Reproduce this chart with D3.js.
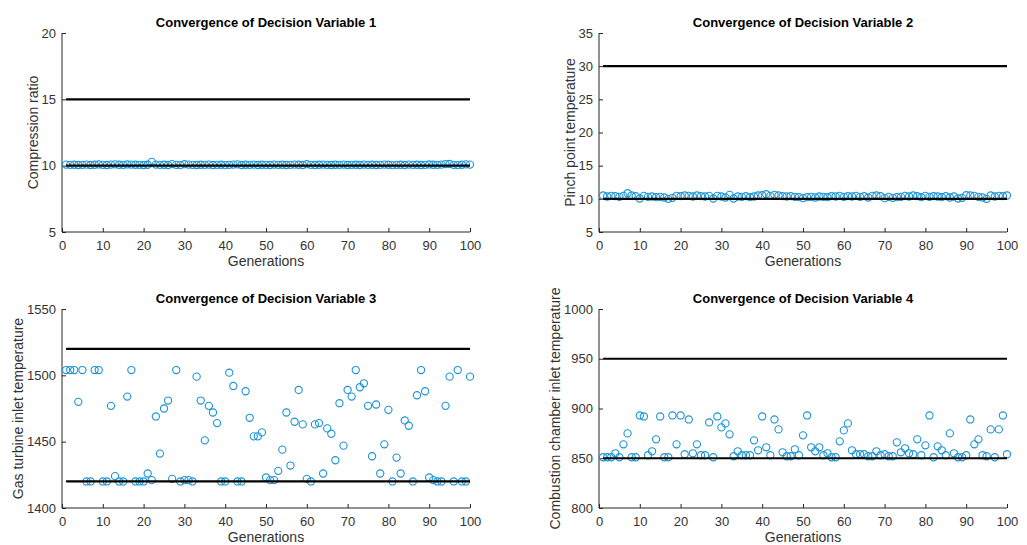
<!DOCTYPE html>
<html lang="en">
<head>
<meta charset="UTF-8">
<title>Convergence of Decision Variables</title>
<script src="https://d3js.org/d3.v7.min.js"></script>
<style>
    body, html {
        margin: 0;
        background: #fff;
    }
    svg {
        display: block;
        font-family: "Liberation Sans", Arial, sans-serif;
    }
    .tick text {
        fill: #333;
        font-size: 13px;
    }
    .domain, .tick line {
        stroke: #262626;
    }
</style>
</head>
<body>
<svg width="1027" height="545"></svg>
<script>
    // generations 1..100
    const generations = d3.range(1, 101);
    const xTicks = [0, 10, 20, 30, 40, 50, 60, 70, 80, 90, 100];

    // variable 1 - compression ratio
    const var1 = [
        10.08,10.06,10.07,10.05,10.06,10.08,10.05,10.07,10.09,10.06,
        10.05,10.08,10.10,10.07,10.06,10.09,10.08,10.07,10.06,10.05,
        10.07,10.29,10.08,10.06,10.07,10.05,10.12,10.06,10.04,10.11,
        10.08,10.06,10.05,10.07,10.06,10.08,10.05,10.06,10.07,10.04,
        10.06,10.08,10.10,10.05,10.07,10.06,10.08,10.05,10.07,10.06,
        10.05,10.08,10.06,10.07,10.05,10.06,10.08,10.07,10.05,10.11,
        10.06,10.05,10.07,10.08,10.06,10.05,10.07,10.06,10.08,10.05,
        10.06,10.07,10.05,10.08,10.06,10.07,10.05,10.06,10.08,10.07,
        10.04,10.06,10.07,10.05,10.08,10.06,10.07,10.05,10.06,10.09,
        10.07,10.06,10.08,10.12,10.13,10.06,10.04,10.07,10.10,10.08
    ];
    const bounds1 = [10, 15];
    const yTicks1 = [5, 10, 15, 20];

    // variable 2 - pinch point temperature
    const var2 = [
        10.50,10.35,10.45,10.40,10.30,10.45,10.85,10.50,10.40,10.05,
        10.45,10.30,10.35,10.25,10.30,10.20,10.00,10.15,10.45,10.40,
        10.50,10.45,10.35,10.50,10.40,10.35,10.45,10.05,10.45,10.35,
        10.20,10.60,10.05,10.35,10.30,10.40,10.25,10.35,10.50,10.55,
        10.70,10.45,10.60,10.50,10.40,10.35,10.40,10.30,10.25,10.10,
        10.25,10.30,10.20,10.35,10.30,10.25,10.40,10.35,10.45,10.30,
        10.40,10.35,10.45,10.30,10.40,10.20,10.45,10.50,10.40,10.10,
        10.30,10.15,10.25,10.30,10.45,10.35,10.50,10.40,10.25,10.45,
        10.30,10.40,10.35,10.25,10.40,10.20,10.35,10.05,10.15,10.55,
        10.50,10.45,10.30,10.20,10.00,10.50,10.35,10.45,10.40,10.50
    ];
    const bounds2 = [10, 30];
    const yTicks2 = [5, 10, 15, 20, 25, 30, 35];

    // variable 3 - gas turbine inlet temperature
    const var3 = [
        1504,1504,1504,1480,1504,1420,1420,1504,1504,1420,
        1420,1477,1424,1420,1420,1484,1504,1420,1420,1420,
        1426,1421,1469,1441,1475,1481,1422,1504,1420,1421,
        1421,1420,1499,1481,1451,1477,1472,1464,1420,1420,
        1502,1492,1420,1420,1488,1468,1454,1454,1457,1423,
        1421,1421,1428,1444,1472,1432,1465,1489,1463,1422,
        1420,1463,1464,1426,1460,1456,1436,1479,1447,1489,
        1484,1504,1491,1494,1477,1439,1478,1426,1448,1474,
        1420,1438,1426,1466,1462,1420,1485,1504,1488,1423,
        1421,1420,1420,1477,1499,1420,1504,1420,1420,1499
    ];
    const bounds3 = [1420, 1520];
    const yTicks3 = [1400, 1450, 1500, 1550];

    // variable 4 - combustion chamber inlet temperature
    const var4 = [
        851,851,851,855,851,864,875,851,851,893,
        892,853,857,869,892,851,851,893,864,893,
        854,889,855,864,853,853,886,851,892,881,
        885,874,852,857,853,853,853,868,858,892,
        861,853,889,879,856,852,852,859,853,873,
        893,861,857,861,853,855,851,851,867,878,
        885,858,854,854,854,852,852,857,853,854,
        852,852,866,856,860,855,854,869,853,863,
        893,851,862,858,853,875,855,851,851,853,
        889,864,869,853,852,879,851,879,893,854
    ];
    const bounds4 = [850, 950];
    const yTicks4 = [800, 850, 900, 950, 1000];

    const svg = d3.select("svg");

    function drawPanel(opts) {
        const g = svg.append("g");
        const x = d3.scaleLinear().domain([0, 100]).range([opts.x0, opts.x1]);
        const y = d3.scaleLinear().domain(d3.extent(opts.yTicks)).range([opts.y1, opts.y0]);

        // axes (ticks pointing inward like matlab)
        const xAxis = g.append("g")
            .attr("transform", `translate(0,${opts.y1})`)
            .call(d3.axisBottom(x).tickValues(xTicks).tickFormat(d3.format("d"))
                .tickSizeInner(-4).tickSizeOuter(0).tickPadding(9));
        const yAxis = g.append("g")
            .attr("transform", `translate(${opts.x0},0)`)
            .call(d3.axisLeft(y).tickValues(opts.yTicks).tickFormat(d3.format("d"))
                .tickSizeInner(-4).tickSizeOuter(0).tickPadding(6));
        xAxis.select(".domain").attr("d", `M${opts.x0},0H${opts.x1}`);
        yAxis.select(".domain").attr("d", `M0,${opts.y0}V${opts.y1}`);

        // the circles
        g.append("g").selectAll("circle")
            .data(opts.values)
            .enter().append("circle")
            .attr("cx", (d, i) => x(generations[i]))
            .attr("cy", d => y(d))
            .attr("r", 3.6)
            .attr("fill", "none")
            .attr("stroke", "#1a93d5")
            .attr("stroke-width", 1.1);

        // lower / upper bound lines
        g.append("g").selectAll("line")
            .data(opts.bounds)
            .enter().append("line")
            .attr("x1", x(generations[0]))
            .attr("x2", x(generations[generations.length - 1]))
            .attr("y1", d => y(d))
            .attr("y2", d => y(d))
            .attr("stroke", "#000")
            .attr("stroke-width", 2.2);

        // title
        g.append("text")
            .attr("x", (opts.x0 + opts.x1) / 2)
            .attr("y", opts.y0 - 6)
            .attr("text-anchor", "middle")
            .style("font-size", "13px")
            .style("font-weight", "bold")
            .text(opts.title);

        // x label
        g.append("text")
            .attr("x", (opts.x0 + opts.x1) / 2)
            .attr("y", opts.y1 + 34)
            .attr("text-anchor", "middle")
            .style("font-size", "14px")
            .attr("fill", "#333")
            .text("Generations");

        // y label sits left of the widest tick label
        let w = 0;
        yAxis.selectAll(".tick text").each(function() {
            w = Math.max(w, this.getComputedTextLength());
        });
        const lx = opts.x0 - w - 10;
        g.append("text")
            .attr("transform", `translate(${lx},${(opts.y0 + opts.y1) / 2}) rotate(-90)`)
            .attr("text-anchor", "middle")
            .style("font-size", "14px")
            .attr("fill", "#333")
            .text(opts.ylabel);
    }

    drawPanel({x0: 62, x1: 470, y0: 33, y1: 232, values: var1, bounds: bounds1, yTicks: yTicks1,
               title: "Convergence of Decision Variable 1", ylabel: "Compression ratio"});
    drawPanel({x0: 599, x1: 1007, y0: 33, y1: 232, values: var2, bounds: bounds2, yTicks: yTicks2,
               title: "Convergence of Decision Variable 2", ylabel: "Pinch point temperature"});
    drawPanel({x0: 62, x1: 470, y0: 309, y1: 508, values: var3, bounds: bounds3, yTicks: yTicks3,
               title: "Convergence of Decision Variable 3", ylabel: "Gas turbine inlet temperature"});
    drawPanel({x0: 599, x1: 1007, y0: 309, y1: 508, values: var4, bounds: bounds4, yTicks: yTicks4,
               title: "Convergence of Decision Variable 4", ylabel: "Combustion chamber inlet temperature"});
</script>
</body>
</html>
